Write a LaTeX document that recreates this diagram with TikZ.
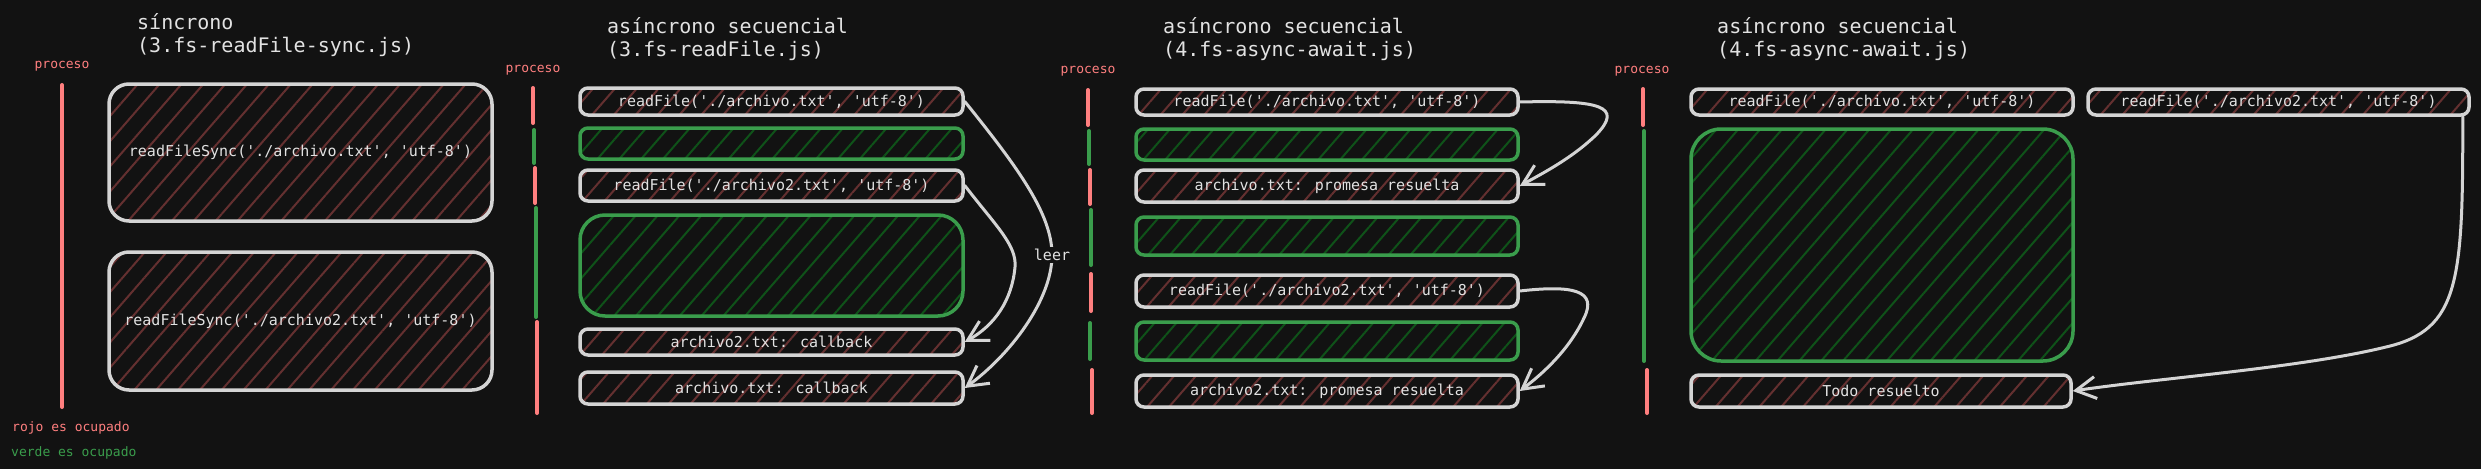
\documentclass[tikz,border=0pt]{standalone}
\usepackage{fontspec}
\newfontfamily\mono{DejaVu Sans Mono}
\usetikzlibrary{patterns.meta,arrows.meta}
\definecolor{bg}{HTML}{121212}
\definecolor{wcol}{HTML}{D4D4D4}
\definecolor{txt}{HTML}{E2E2E2}
\definecolor{rcol}{HTML}{FF7F7F}
\definecolor{gcol}{HTML}{3A9D4C}
\definecolor{hred}{HTML}{643030}
\definecolor{hgreen}{HTML}{0F5219}
\begin{document}
\begin{tikzpicture}[x=1pt,y=-1pt,
  box/.style={draw=wcol, line width=3.5pt, rounded corners=8pt,
    pattern={Lines[angle=49,distance=16.5pt,line width=2pt]}, pattern color=hred,
    text=txt, font=\fontsize{15}{18}\selectfont\mono, inner sep=0pt, minimum width=383pt},
  gbox/.style={box, draw=gcol, pattern color=hgreen},
  ttl/.style={anchor=west, align=left, text=txt, font=\fontsize{20}{23}\selectfont\mono, inner sep=0pt},
  proc/.style={text=rcol, font=\fontsize{13}{15}\selectfont\mono, inner sep=0pt},
  rl/.style={draw=rcol, line width=4pt, line cap=round},
  gl/.style={draw=gcol, line width=4pt, line cap=round},
  arr/.style={draw=wcol, line width=3pt, line cap=round, -{Straight Barb[length=20pt,width=22pt]}}
]
\fill[bg] (0,0) rectangle (2481,469);
\useasboundingbox (0,0) rectangle (2481,469);

% ---------- section 1: sincrono
\node[ttl] (t1) at (137,35) {síncrono\\(3.fs-readFile-sync.js)};
\node[proc] (p1) at (62,66) {proceso};
\draw[rl] (62,85) -- (62,407);
\node[box, rounded corners=20pt, minimum height=137pt] (s1a) at (300.5,152.5) {readFileSync('./archivo.txt', 'utf-8')};
\node[box, rounded corners=20pt, minimum height=138pt] (s1b) at (300.5,321) {readFileSync('./archivo2.txt', 'utf-8')};
\node[proc, anchor=west] (rojo) at (12,428) {rojo es ocupado};
\node[proc, anchor=west, text=gcol] (verde) at (11,453) {verde es ocupado};

% ---------- section 2
\node[ttl] (t2) at (607,39) {asíncrono secuencial\\(3.fs-readFile.js)};
\node[proc] (p2) at (533,70) {proceso};
\draw[rl] (533,88) -- (533,123);
\draw[gl] (534,130) -- (534,163);
\draw[rl] (535,168) -- (535,203);
\draw[gl] (536,208) -- (536,317);
\draw[rl] (537,322) -- (537,413);
\node[box, minimum height=27pt] (b1) at (771.5,101.5) {readFile('./archivo.txt', 'utf-8')};
\node[gbox, minimum height=31pt] (b2) at (771.5,143.5) {};
\node[box, minimum height=31pt] (b3) at (771.5,185.5) {readFile('./archivo2.txt', 'utf-8')};
\node[gbox, rounded corners=25pt, minimum height=101pt] (b4) at (771.5,265.5) {};
\node[box, minimum height=26pt] (b5) at (771.5,342) {archivo2.txt: callback};
\node[box, minimum height=32pt] (b6) at (771.5,388) {archivo.txt: callback};
\draw[arr] (b1.east) .. controls (1020,170) and (1052,215) .. (1052,255)
  .. controls (1052,300) and (1010,355) .. (b6.east);
\draw[arr] (b3.east) .. controls (995,225) and (1017,245) .. (1015,267)
  .. controls (1012,300) and (995,325) .. (b5.east);
\node[fill=bg, text=txt, font=\fontsize{15}{18}\selectfont\mono, inner sep=2pt] (leer) at (1052,255) {leer};

% ---------- section 3
\node[ttl] (t3) at (1163,39) {asíncrono secuencial\\(4.fs-async-await.js)};
\node[proc] (p3) at (1088,71) {proceso};
\draw[rl] (1088,90) -- (1088,125);
\draw[gl] (1089,131) -- (1089,164);
\draw[rl] (1090,170) -- (1090,204);
\draw[gl] (1091,210) -- (1091,265);
\draw[rl] (1091,274) -- (1091,311);
\draw[gl] (1090,323) -- (1090,359);
\draw[rl] (1092,370) -- (1092,413);
\node[box, minimum width=382pt, minimum height=26pt] (c1) at (1327,102) {readFile('./archivo.txt', 'utf-8')};
\node[gbox, minimum width=382pt, minimum height=31pt] (c2) at (1327,144.5) {};
\node[box, minimum width=382pt, minimum height=32pt] (c3) at (1327,186) {archivo.txt: promesa resuelta};
\node[gbox, minimum width=382pt, minimum height=38pt] (c4) at (1327,236) {};
\node[box, minimum width=382pt, minimum height=32pt] (c5) at (1327,291) {readFile('./archivo2.txt', 'utf-8')};
\node[gbox, minimum width=382pt, minimum height=38pt] (c6) at (1327,341) {};
\node[box, minimum width=382pt, minimum height=32pt] (c7) at (1327,391) {archivo2.txt: promesa resuelta};
\draw[arr] (c1.east) .. controls (1600,100) and (1624,106) .. (1596,135)
  .. controls (1572,158) and (1545,172) .. (c3.east);
\draw[arr] (c5.east) .. controls (1572,285) and (1598,290) .. (1584,318)
  .. controls (1570,348) and (1545,372) .. (c7.east);

% ---------- section 4
\node[ttl] (t4) at (1717,39) {asíncrono secuencial\\(4.fs-async-await.js)};
\node[proc] (p4) at (1642,71) {proceso};
\draw[rl] (1643,89) -- (1643,125);
\draw[gl] (1644,131) -- (1644,361);
\draw[rl] (1647,370) -- (1647,413);
\node[box, minimum width=382pt, minimum height=26pt] (d1) at (1882,102) {readFile('./archivo.txt', 'utf-8')};
\node[box, minimum width=381pt, minimum height=26pt] (d2) at (2278.5,102) {readFile('./archivo2.txt', 'utf-8')};
\node[gbox, rounded corners=30pt, minimum width=382pt, minimum height=232pt] (d3) at (1882,245) {};
\node[box, minimum width=380pt, minimum height=32pt] (d4) at (1881,391) {Todo resuelto};
\draw[arr] ([xshift=-8pt]d2.south east) .. controls (2463,280) and (2460,330) .. (2386,347)
  .. controls (2300,368) and (2160,378) .. (d4.east);
\end{tikzpicture}
\end{document}
